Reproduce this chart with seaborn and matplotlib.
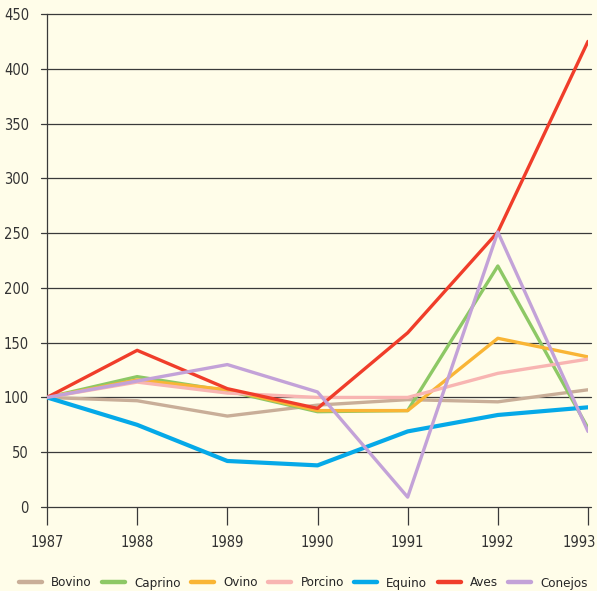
import matplotlib.pyplot as plt
import seaborn as sns
import pandas as pd
from matplotlib.lines import Line2D
from matplotlib.transforms import ScaledTranslation

sns.set_style("white")

anios = [1987, 1988, 1989, 1990, 1991, 1992, 1993]
bovino = [100, 97, 83, 93, 98, 96, 107]
caprino = [100, 119, 106, 87, 88, 220, 72]
ovino = [100, 116, 107, 88, 88, 154, 137]
porcino = [100, 114, 104, 100, 100, 122, 135]
equino = [100, 75, 42, 38, 69, 84, 91]
aves = [100, 143, 108, 90, 159, 251, 425]
conejos = [100, 115, 130, 105, 9, 251, 69]

especies = ["Bovino", "Caprino", "Ovino", "Porcino", "Equino", "Aves", "Conejos"]
series = [bovino, caprino, ovino, porcino, equino, aves, conejos]
colores = ["#c9ae98", "#8dc865", "#f9b535", "#f8b5b2", "#05a9e8", "#f03d2a", "#c3a2d8"]

filas = []
for nombre, valores in zip(especies, series):
    for a, v in zip(anios, valores):
        filas.append({"Año": a, "Índice": v, "Especie": nombre})
df = pd.DataFrame(filas)

plt.rcParams['font.family'] = ['DejaVu Sans']
plt.rcParams['font.stretch'] = 'condensed'
fondo = "#fffde9"

fig = plt.figure(figsize=(5.97, 5.91), dpi=100, facecolor=fondo)
ax = fig.add_axes([47 / 597, 1 - 507 / 591, 541 / 597, 493 / 591])
ax.set_facecolor(fondo)

# rejilla horizontal
for y in range(0, 451, 50):
    ax.plot([1986.93, 1993.03], [y, y], color="#3a3a3a", lw=0.9, clip_on=False, zorder=1)

sns.lineplot(data=df, x="Año", y="Índice", hue="Especie", hue_order=especies,
             palette=colores, linewidth=2.4, ax=ax, zorder=3, legend=False)
# Equino un poco mas grueso
for ln, nombre in zip(ax.lines[-len(especies):], especies):
    if nombre == "Equino":
        ln.set_linewidth(3.0)

ax.set_xlim(1987, 1993)
ax.set_ylim(0, 450)
ax.set_xticks(anios)
ax.set_yticks(range(0, 451, 50))
ax.set_xlabel("")
ax.set_ylabel("")
for s in ["top", "right", "bottom"]:
    ax.spines[s].set_visible(False)
ax.spines["left"].set_color("#3a3a3a")
ax.spines["left"].set_linewidth(0.9)
ax.tick_params(axis="x", length=13, width=0.9, color="#3a3a3a", pad=7,
               labelsize=10.5, labelcolor="#333333")
ax.tick_params(axis="y", length=0, pad=13, labelsize=10.5, labelcolor="#333333")
ax.xaxis.set_ticks_position("bottom")
# ultimo año algo desplazado a la izquierda, como en el original
ultimo = ax.get_xticklabels()[-1]
ultimo.set_transform(ultimo.get_transform() + ScaledTranslation(-9 / 100, 0, fig.dpi_scale_trans))

handles = [Line2D([0], [0], color=c, lw=3.2) for c in colores]
fig.legend(handles, especies, loc="center left", ncol=7, frameon=False, mode="expand",
           bbox_to_anchor=(19 / 597, 1 - 583 / 591, 569 / 597, 0.0), fontsize=9.5,
           handlelength=1.75, columnspacing=1.0, handletextpad=0.7,
           borderpad=0, borderaxespad=0)

fig.savefig("out.png", dpi=100, facecolor=fondo)
